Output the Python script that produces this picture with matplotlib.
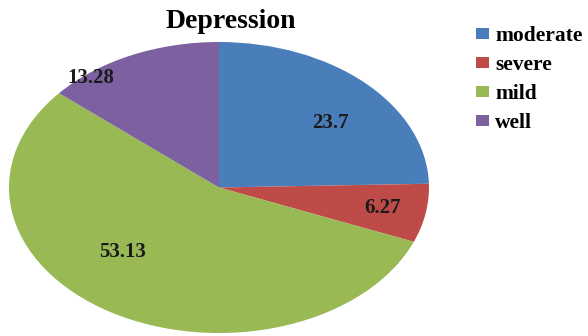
import matplotlib
matplotlib.use("Agg")
import matplotlib.pyplot as plt

categories = ["moderate", "severe", "mild", "well"]
values = [23.7, 6.27, 53.13, 13.28]
colors = ["#4A7EBB", "#BE4B48", "#98B954", "#7D60A0"]
# label anchor positions (axes fraction) for the value labels
label_pos = [(0.765, 0.72), (0.89, 0.43), (0.27, 0.28), (0.195, 0.875)]

plt.rcParams['font.family'] = ['Liberation Serif', 'DejaVu Serif']

fig = plt.figure(figsize=(5.88, 3.36), dpi=100)
ax = fig.add_axes([9/588, 3/336, 420/588, 291/336])
wedges, _ = ax.pie(values, colors=colors, startangle=90, counterclock=False,
                   radius=1.0, wedgeprops=dict(linewidth=0))
ax.set_aspect('auto')
ax.set_xlim(-1, 1)
ax.set_ylim(-1, 1)

for v, (x, y) in zip(values, label_pos):
    ax.text(x, y, f"{v:g}", transform=ax.transAxes, ha='center', va='center',
            fontsize=15, fontweight='bold', color='#1a1a1a')

fig.text(231/588, 1 - 22/336, "Depression", ha='center', va='center',
         fontsize=20, fontweight='bold', color='black')

leg = fig.legend(wedges, categories, loc='upper left',
                 bbox_to_anchor=(476/588, 1 - 26/336), frameon=False,
                 prop=dict(size=15.5, weight='bold'), handlelength=0.6,
                 handleheight=0.45, handletextpad=0.3, labelspacing=0.42,
                 borderaxespad=0, borderpad=0)

fig.savefig("out.png", dpi=100)
